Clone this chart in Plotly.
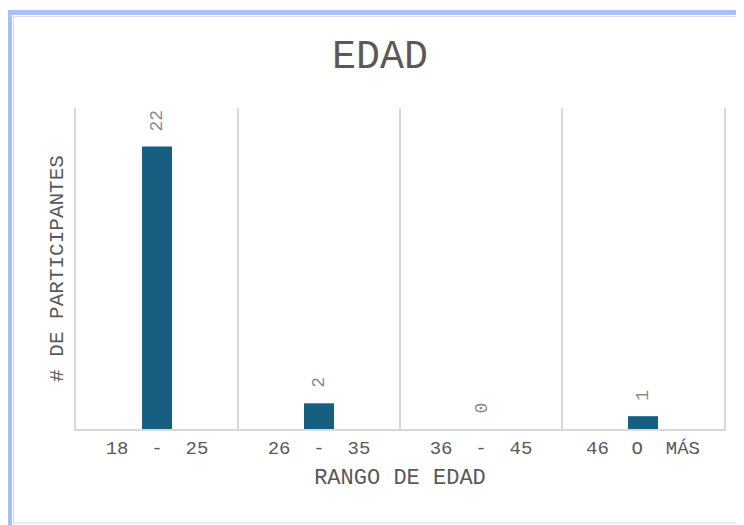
import plotly.graph_objects as go

# data
categories = ["18 - 25", "26 - 35", "36 - 45", "46 O MÁS"]
tick_labels = ["18  -  25", "26  -  35", "36  -  45", "46  O  MÁS"]
participants = [22, 2, 0, 1]

# page body adds an 8px offset, so figure coords = screen coords - 8
OFF = 8
W, H = 744 - OFF, 525 - OFF
L, R, T, B = 76 - OFF, 724 - OFF, 108 - OFF, 429 - OFF
pw, ph = R - L, B - T


def px_x(v):
    return (v - OFF - L) / pw


def px_y(v):
    return (B - (v - OFF)) / ph


fig = go.Figure()

fig.add_trace(
    go.Bar(
        x=categories,
        y=participants,
        marker=dict(color="#175F80", line=dict(width=0)),
        hoverinfo="x+y",
    )
)

# rotated value labels above each bar
for cat, val in zip(categories, participants):
    fig.add_annotation(
        x=cat,
        y=val,
        text=str(val),
        textangle=-90,
        showarrow=False,
        yanchor="bottom",
        yshift=13,
        font=dict(family="Liberation Mono", size=18, color="#8c8c8c"),
    )

# outer frame (selection border + chart outline)
fig.add_shape(
    type="rect", xref="paper", yref="paper",
    x0=px_x(9.5), x1=px_x(800), y0=px_y(12.5), y1=px_y(600),
    line=dict(color="#a4c2f4", width=5), layer="below",
)
fig.add_shape(
    type="rect", xref="paper", yref="paper",
    x0=px_x(13.5), x1=px_x(800), y0=px_y(16.5), y1=px_y(523),
    line=dict(color="#d9d9d9", width=1), layer="below",
)

fig.update_layout(
    width=W,
    height=H,
    margin=dict(l=L, r=W - R, t=T, b=H - B),
    paper_bgcolor="white",
    plot_bgcolor="white",
    showlegend=False,
    bargap=0.815,
    title=dict(
        text="EDAD",
        x=(380 - OFF) / W,
        xanchor="center",
        xref="container",
        y=1 - (54 - OFF) / H,
        yanchor="middle",
        font=dict(family="Liberation Mono", size=40, color="#595959"),
    ),
    font=dict(family="Liberation Mono", color="#595959"),
)

fig.update_xaxes(
    automargin=False,
    tickmode="array",
    tickvals=categories,
    ticktext=tick_labels,
    tickangle=0,
    tickson="boundaries",
    showgrid=True,
    gridcolor="#d9d9d9",
    gridwidth=1.5,
    showline=True,
    linecolor="#d9d9d9",
    linewidth=2,
    ticks="",
    tickfont=dict(size=19, color="#595959"),
    title=dict(text="RANGO DE EDAD", font=dict(size=22, color="#595959"), standoff=10),
)

fig.update_yaxes(
    automargin=False,
    range=[0, 25],
    showgrid=False,
    zeroline=False,
    showline=True,
    mirror=True,
    linecolor="#d9d9d9",
    linewidth=1.5,
    showticklabels=False,
    ticks="",
    title=dict(text="# DE PARTICIPANTES", font=dict(size=21, color="#595959"), standoff=5),
)

fig.write_html("out.html")
